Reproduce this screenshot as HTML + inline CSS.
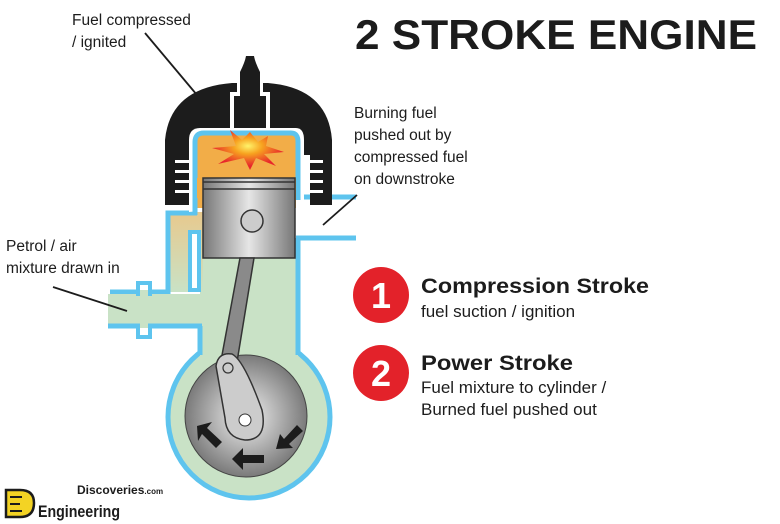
<!DOCTYPE html>
<html><head><meta charset="utf-8"><style>
html,body{margin:0;padding:0;background:#fff;}
svg{display:block;}
text{font-family:"Liberation Sans",sans-serif;}
</style></head><body>
<svg width="780" height="524" viewBox="0 0 780 524" xmlns="http://www.w3.org/2000/svg">
<defs>
<linearGradient id="tan" x1="0" y1="0" x2="0" y2="1">
<stop offset="0" stop-color="#e8c98d"/><stop offset="1" stop-color="#c9e2c6"/></linearGradient>
<radialGradient id="gw" cx="0.5" cy="0.5" r="0.55">
<stop offset="0" stop-color="#f2f2f2"/><stop offset="1" stop-color="#6e6e6e"/></radialGradient>
<linearGradient id="pg" x1="0" y1="0" x2="1" y2="0">
<stop offset="0" stop-color="#777"/><stop offset="0.5" stop-color="#e6e6e6"/><stop offset="1" stop-color="#777"/></linearGradient>
<radialGradient id="fire" cx="0.5" cy="0.4" r="0.5">
<stop offset="0" stop-color="#fff36a"/><stop offset="0.4" stop-color="#f7a21f"/><stop offset="1" stop-color="#e8262b"/></radialGradient>
</defs>

<path d="M200 240 L298 240 L298 350 A81 81 0 1 1 200 350 Z" fill="#c9e2c6"/>
<circle cx="249" cy="417" r="81" fill="#c9e2c6" stroke="#5ec4ee" stroke-width="5"/>
<rect x="200" y="250" width="98" height="110" fill="#c9e2c6"/>
<line x1="298" y1="238" x2="298" y2="355" stroke="#5ec4ee" stroke-width="5"/>
<line x1="200" y1="326" x2="200" y2="355" stroke="#5ec4ee" stroke-width="5"/>

<rect x="168" y="212" width="35" height="80" fill="url(#tan)"/>
<path d="M197 213 L168 213 L168 292 L110 292" fill="none" stroke="#5ec4ee" stroke-width="5"/>
<rect x="190" y="232" width="9" height="58" fill="#fff" stroke="#5ec4ee" stroke-width="4"/>
<rect x="108" y="294" width="95" height="32" fill="#c9e2c6"/>
<line x1="108" y1="326" x2="202" y2="326" stroke="#5ec4ee" stroke-width="5"/>
<rect x="138" y="283" width="12" height="11" fill="#fff" stroke="#5ec4ee" stroke-width="4"/>
<rect x="138" y="326" width="12" height="11" fill="#fff" stroke="#5ec4ee" stroke-width="4"/>
<rect x="140" y="290" width="8" height="8" fill="#c9e2c6"/>
<rect x="140" y="322" width="8" height="6" fill="#c9e2c6"/>

<line x1="296" y1="197" x2="356" y2="197" stroke="#5ec4ee" stroke-width="5"/>
<line x1="296" y1="238" x2="356" y2="238" stroke="#5ec4ee" stroke-width="5"/>

<path d="M165 205 L165 140 Q170 88 232 83 L268 83 Q328 88 332 140 L332 205 L310 205 L310 155 L190 155 L190 205 Z" fill="#1c1c1c"/>
<g fill="#fff">
<rect x="175" y="160" width="15" height="3"/><rect x="175" y="170" width="15" height="3"/><rect x="175" y="180" width="15" height="3"/><rect x="175" y="190" width="15" height="3"/>
<rect x="308" y="160" width="15" height="3"/><rect x="308" y="170" width="15" height="3"/><rect x="308" y="180" width="15" height="3"/><rect x="308" y="190" width="15" height="3"/>
</g>
<path d="M189 212 L189 140 Q189 128 200 128 L296 128 Q304 128 304 140 L304 200" fill="#fff"/>
<path d="M195 200 L195 142 Q195 133 204 133 L291 133 Q298 133 298 142 L298 200" fill="#f2ad48" stroke="#5ec4ee" stroke-width="5"/>
<rect x="197" y="178" width="99" height="30" fill="#f2ad48"/>
<line x1="195" y1="198" x2="195" y2="215" stroke="#5ec4ee" stroke-width="5"/>
<path d="M230 130 L230 92 L237 92 L237 70 Q243 58 245 52 L255 52 Q257 58 263 70 L263 92 L270 92 L270 130 Z" fill="#fff"/>
<path d="M234 128 L234 96 L240 96 L240 72 Q245 62 246 56 L254 56 Q255 62 260 72 L260 96 L266 96 L266 128 Z" fill="#1c1c1c"/>
<polygon points="250,132 258,142 268,136 266,146 284,152 264,154 276,166 256,158 250,170 244,158 218,164 234,154 212,148 236,146 230,130 242,140" fill="url(#fire)"/>

<rect x="203" y="178" width="92" height="80" fill="url(#pg)" stroke="#333" stroke-width="1.5"/>
<line x1="203" y1="182" x2="295" y2="182" stroke="#333" stroke-width="1.5"/>
<line x1="203" y1="189" x2="295" y2="189" stroke="#333" stroke-width="1.5"/>
<circle cx="252" cy="221" r="11" fill="#ccc" stroke="#333" stroke-width="1.5"/>

<circle cx="246" cy="416" r="61" fill="url(#gw)" stroke="#444" stroke-width="1"/>
<polygon points="240,258 254,258 236,368 220,366" fill="#8a8a8a" stroke="#333" stroke-width="1.5"/>
<path d="M216 366 Q218 352 232 354 Q244 360 262 410 Q268 440 245 440 Q226 438 225 418 Z" fill="#ccc" stroke="#333" stroke-width="1.5"/>
<circle cx="228" cy="368" r="5" fill="#ccc" stroke="#333" stroke-width="1.2"/>
<circle cx="245" cy="420" r="6" fill="#fff" stroke="#333" stroke-width="1"/>
<g fill="#1c1c1c">
<polygon points="197,426 212,422 207,428 222,442 216,448 202,434 198,441"/>
<polygon points="232,459 243,448 243,455 264,455 264,463 243,463 243,470"/>
<polygon points="276,449 280,434 284,439 297,425 303,431 289,444 293,448"/>
</g>

<g stroke="#1c1c1c" stroke-width="1.8">
<line x1="145" y1="33" x2="197" y2="95"/>
<line x1="357" y1="195" x2="323" y2="225"/>
<line x1="53" y1="287" x2="127" y2="311"/>
</g>

<g font-size="15.5" fill="#1c1c1c">
<text x="72" y="25">Fuel compressed</text>
<text x="72" y="47">/ ignited</text>
<text x="354" y="118">Burning fuel</text>
<text x="354" y="140">pushed out by</text>
<text x="354" y="162">compressed fuel</text>
<text x="354" y="184">on downstroke</text>
<text x="6" y="251">Petrol / air</text>
<text x="6" y="273">mixture drawn in</text>
</g>
<text x="355" y="49" font-size="42" font-weight="900" fill="#1c1c1c" textLength="402" lengthAdjust="spacingAndGlyphs">2 STROKE ENGINE</text>

<circle cx="381" cy="295" r="28" fill="#e3222a"/>
<text x="381" y="308" font-size="36" font-weight="bold" fill="#fff" text-anchor="middle">1</text>
<circle cx="381" cy="373" r="28" fill="#e3222a"/>
<text x="381" y="386" font-size="36" font-weight="bold" fill="#fff" text-anchor="middle">2</text>
<text x="421" y="293" font-size="21" font-weight="bold" fill="#1c1c1c" textLength="228" lengthAdjust="spacingAndGlyphs">Compression Stroke</text>
<text x="421" y="317" font-size="17" fill="#1c1c1c">fuel suction / ignition</text>
<text x="421" y="370" font-size="21" font-weight="bold" fill="#1c1c1c" textLength="152" lengthAdjust="spacingAndGlyphs">Power Stroke</text>
<text x="421" y="393" font-size="17" fill="#1c1c1c">Fuel mixture to cylinder /</text>
<text x="421" y="415" font-size="17" fill="#1c1c1c">Burned fuel pushed out</text>

<path d="M6 490 L20 490 Q34 490 34 503 Q34 517 20 517 L6 517 Z" fill="#f3d324" stroke="#1c1c1c" stroke-width="2.5"/>
<path d="M10 497 L22 497 M10 504 L20 504 M10 511 L22 511" stroke="#1c1c1c" stroke-width="2"/>
<text x="77" y="494" font-size="12" font-weight="bold" fill="#1c1c1c">Discoveries<tspan font-size="8">.com</tspan></text>
<text x="38" y="517" font-size="17" font-weight="bold" fill="#1c1c1c" textLength="82" lengthAdjust="spacingAndGlyphs">Engineering</text>
</svg>
</body></html>
